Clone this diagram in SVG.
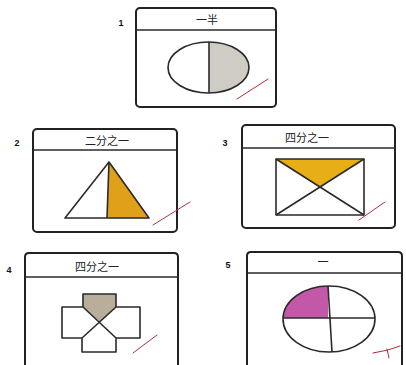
<svg xmlns="http://www.w3.org/2000/svg" width="406" height="365" viewBox="0 0 406 365">
<style>
.box{fill:none;stroke:#222;stroke-width:2}
.ln{fill:none;stroke:#2a2a2a;stroke-width:1.6;stroke-linejoin:round}
.hd{font-family:"Noto Sans CJK SC","Noto Sans CJK JP",sans-serif;font-size:11px;fill:#222;text-anchor:middle}
.num{font-family:"Liberation Sans",sans-serif;font-size:9px;font-weight:bold;fill:#111;text-anchor:middle}
.chk{fill:none;stroke:#b0303a;stroke-width:1;stroke-linecap:round}
</style>
<rect width="406" height="365" fill="#fff"/>
<g id="panel1">
<text class="num" x="121" y="26">1</text>
<rect class="box" x="136" y="8" width="140" height="99" rx="4"/>
<line class="ln" x1="136" y1="30" x2="276" y2="30"/>
<text class="hd" x="207" y="24">一半</text>
<path d="M209,42 A40.5,25.5 0 0 1 209,93 Z" fill="#cfccc6"/>
<ellipse class="ln" cx="208.5" cy="67.5" rx="40.5" ry="25.5"/>
<line class="ln" x1="209" y1="42" x2="209" y2="93"/>
<line class="chk" x1="237" y1="99" x2="268" y2="79"/>
</g>
<g id="panel2">
<text class="num" x="17" y="146">2</text>
<rect class="box" x="33" y="129" width="144" height="103" rx="4"/>
<line class="ln" x1="33" y1="150" x2="177" y2="150"/>
<text class="hd" x="107" y="145" font-size="12">二分之一</text>
<polygon points="109,162 107,218 149,218" fill="#e0a01a"/>
<polygon class="ln" points="109,162 65,218 149,218"/>
<line class="ln" x1="109" y1="162" x2="107" y2="218"/>
<line class="chk" x1="153" y1="225" x2="190" y2="202"/>
</g>
<g id="panel3">
<text class="num" x="225" y="146">3</text>
<rect class="box" x="242" y="125" width="153" height="103" rx="4"/>
<line class="ln" x1="242" y1="148" x2="395" y2="148"/>
<text class="hd" x="307" y="142">四分之一</text>
<polygon points="276,159 364,159 319,187" fill="#e8ae16"/>
<rect class="ln" x="276" y="159" width="88" height="56"/>
<line class="ln" x1="276" y1="159" x2="364" y2="215"/>
<line class="ln" x1="364" y1="159" x2="276" y2="215"/>
<line class="chk" x1="359" y1="220" x2="385" y2="202"/>
</g>
<g id="panel4">
<text class="num" x="9" y="273">4</text>
<path class="box" d="M25,368 L25,257 Q25,253 29,253 L174,253 Q178,253 178,257 L178,368"/>
<line class="ln" x1="25" y1="277" x2="178" y2="277"/>
<text class="hd" x="97" y="271">四分之一</text>
<polygon points="83,294 116,294 116,307 100,322 83,307" fill="#b9ae99"/>
<path class="ln" d="M83,307 L83,294 L116,294 L116,307 M83,307 L62,307 L62,338 L82,338 M116,307 L140,307 L140,338 L116,338 M82,338 L82,352 L116,352 L116,338 M83,307 L116,338 M116,307 L82,338"/>
<line class="chk" x1="133" y1="353" x2="157" y2="335"/>
</g>
<g id="panel5">
<text class="num" x="228" y="268">5</text>
<path class="box" d="M247,368 L247,256 Q247,252 251,252 L398,252 Q402,252 402,256 L402,368"/>
<line class="ln" x1="247" y1="273" x2="402" y2="273"/>
<text class="hd" x="323" y="266">一</text>
<path d="M328,318 L283,318 A46,33 0 0 1 328,286 Z" fill="#c458a8"/>
<ellipse class="ln" cx="329" cy="319" rx="46" ry="33"/>
<line class="ln" x1="328" y1="286" x2="332" y2="352"/>
<line class="ln" x1="283" y1="318" x2="375" y2="318"/>
<path class="chk" d="M373,353 L388,350 L400,346 M387,349 L389,358"/>
</g>
</svg>
